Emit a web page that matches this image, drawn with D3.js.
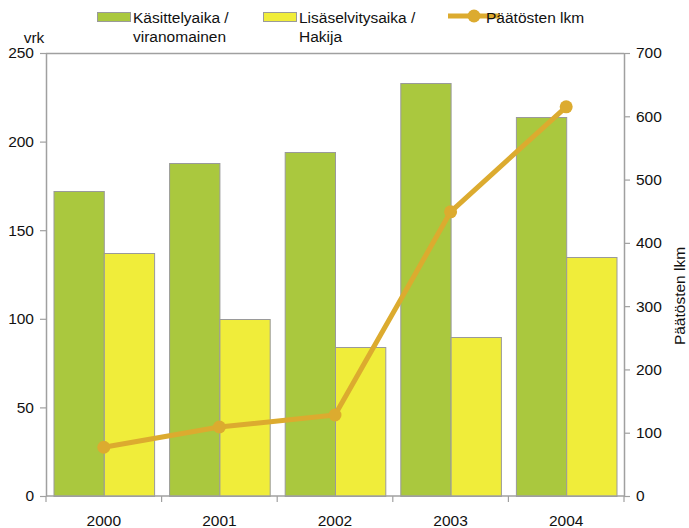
<!DOCTYPE html>
<html>
<head>
<meta charset="utf-8">
<script src="https://cdn.jsdelivr.net/npm/d3@7"></script>
<style>
  html, body { margin: 0; padding: 0; background: #fff; }
  svg { display: block; font-family: "Liberation Sans", Arial, sans-serif; }
</style>
</head>
<body>
<svg id="chart" width="689" height="528"></svg>
<script>
// Years on the category axis
const years = ["2000", "2001", "2002", "2003", "2004"];
// Processing time at the authority (days)
const kasittelyaika = [172, 188, 194, 233, 214];
// Additional clarification time by the applicant (days)
const lisaselvitysaika = [137, 100, 84, 90, 135];
// Number of decisions (right axis)
const paatokset = [77, 109, 128, 449, 615];

const leftTicks = [0, 50, 100, 150, 200, 250];
const rightTicks = [0, 100, 200, 300, 400, 500, 600, 700];

const barColors = ["#aac83e", "#f0ed3a"];
const lineColor = "#dcab2f";
const axisColor = "#a0a0a0";
const fs = 15.5;

const svg = d3.select("#chart");
const m = { left: 46, right: 624, top: 53, bottom: 496 };

const x = d3.scaleBand().domain(years).range([m.left, m.right]).padding(0);
const inset = 7.5;
const x1 = d3.scaleBand().domain([0, 1]).range([inset, x.bandwidth() - inset]).padding(0);
const yL = d3.scaleLinear().domain([0, 250]).range([m.bottom, m.top]);
const yR = d3.scaleLinear().domain([0, 700]).range([m.bottom, m.top]);

const rows = years.map((yr, i) => ({ yr, vals: [kasittelyaika[i], lisaselvitysaika[i]] }));

// Bars
const groups = svg.append("g").selectAll("g").data(rows).join("g")
  .attr("transform", d => `translate(${x(d.yr)},0)`);
groups.selectAll("rect").data(d => d.vals.map((v, k) => ({ v, k }))).join("rect")
  .attr("x", d => x1(d.k) + 0.5)
  .attr("width", x1.bandwidth())
  .attr("y", d => Math.round(yL(d.v)) + 0.5)
  .attr("height", d => m.bottom - Math.round(yL(d.v)))
  .attr("fill", d => barColors[d.k])
  .attr("stroke", "#9a9a9a")
  .attr("stroke-width", 1);

// Plot frame top line
svg.append("line")
  .attr("x1", m.left).attr("x2", m.right)
  .attr("y1", m.top + 0.5).attr("y2", m.top + 0.5)
  .attr("stroke", axisColor).attr("stroke-width", 1.5);

function styleAxis(g) {
  g.selectAll(".domain").attr("stroke", axisColor).attr("stroke-width", 1.5);
  g.selectAll(".tick line").attr("stroke", axisColor).attr("stroke-width", 1.2);
  g.selectAll(".tick text").attr("fill", "#111").attr("font-size", fs)
    .attr("font-family", "'Liberation Sans', Arial, sans-serif");
}

// Left axis
svg.append("g").attr("transform", `translate(${m.left},0)`)
  .call(d3.axisLeft(yL).tickValues(leftTicks).tickSize(6).tickSizeOuter(0).tickPadding(6))
  .call(styleAxis);

// Right axis
svg.append("g").attr("transform", `translate(${m.right},0)`)
  .call(d3.axisRight(yR).tickValues(rightTicks).tickSize(6).tickSizeOuter(0).tickPadding(6))
  .call(styleAxis);

// Bottom axis: ticks at category boundaries, labels centred
const xAxisG = svg.append("g").attr("transform", `translate(0,${m.bottom})`);
xAxisG.append("line")
  .attr("x1", m.left).attr("x2", m.right)
  .attr("stroke", axisColor).attr("stroke-width", 1.5);
const bounds = years.map(y => x(y)).concat([x(years[years.length - 1]) + x.bandwidth()]);
xAxisG.selectAll("line.b").data(bounds).join("line").attr("class", "b")
  .attr("x1", d => d).attr("x2", d => d).attr("y1", 0).attr("y2", 6)
  .attr("stroke", axisColor).attr("stroke-width", 1.2);
xAxisG.selectAll("text").data(years).join("text")
  .attr("x", d => x(d) + x.bandwidth() / 2)
  .attr("y", 30)
  .attr("text-anchor", "middle")
  .attr("font-size", fs).attr("fill", "#111")
  .text(d => d);

// Decisions line
const cx = (d, i) => x(years[i]) + x.bandwidth() / 2;
svg.append("path").datum(paatokset)
  .attr("fill", "none").attr("stroke", lineColor).attr("stroke-width", 5)
  .attr("stroke-linejoin", "round")
  .attr("d", d3.line().x(cx).y(d => yR(d)));
svg.append("g").selectAll("circle").data(paatokset).join("circle")
  .attr("cx", cx).attr("cy", d => yR(d)).attr("r", 6.5).attr("fill", lineColor);

// Axis titles
svg.append("text").attr("x", 34).attr("y", 43).attr("text-anchor", "middle")
  .attr("font-size", fs).attr("fill", "#111").text("vrk");
svg.append("text")
  .attr("transform", "translate(685,296) rotate(-90)")
  .attr("text-anchor", "middle").attr("font-size", fs).attr("fill", "#111")
  .text("Päätösten lkm");

// Legend
const legend = svg.append("g");
const legendItems = [
  { x: 97, lines: ["Käsittelyaika /", "viranomainen"], color: barColors[0] },
  { x: 263, lines: ["Lisäselvitysaika /", "Hakija"], color: barColors[1] }
];
legendItems.forEach(it => {
  legend.append("rect").attr("x", it.x + 0.5).attr("y", 12.5).attr("width", 33).attr("height", 9)
    .attr("fill", it.color).attr("stroke", "#9a9a9a").attr("stroke-width", 1);
  it.lines.forEach((t, j) => {
    legend.append("text").attr("x", it.x + 36).attr("y", 23 + j * 19)
      .attr("font-size", fs).attr("fill", "#111").text(t);
  });
});
legend.append("line").attr("x1", 448).attr("x2", 500).attr("y1", 16).attr("y2", 16)
  .attr("stroke", lineColor).attr("stroke-width", 5);
legend.append("circle").attr("cx", 474).attr("cy", 16).attr("r", 6.5).attr("fill", lineColor);
legend.append("text").attr("x", 486).attr("y", 23)
  .attr("font-size", fs).attr("fill", "#111").text("Päätösten lkm");
</script>
</body>
</html>
